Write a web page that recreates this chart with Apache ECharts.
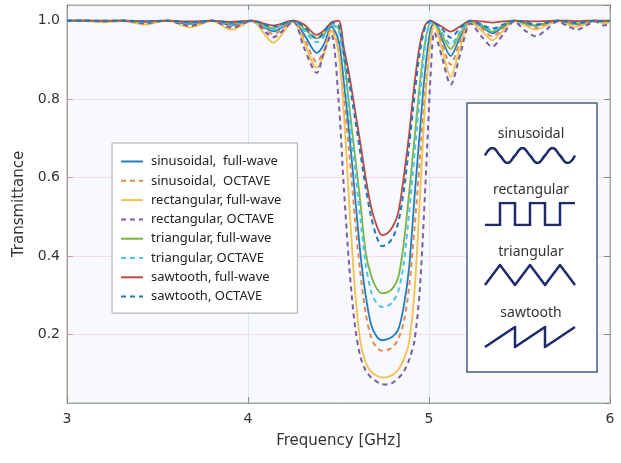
<!DOCTYPE html>
<html>
<head>
<meta charset="utf-8">
<script src="https://cdn.jsdelivr.net/npm/echarts@6/dist/echarts.min.js"></script>
<style>
  html, body { margin: 0; padding: 0; background: #fff; }
  #chart { width: 621px; height: 463px; }
</style>
</head>
<body>
<div id="chart"></div>
<script>
// frequency samples (GHz)
const freq = [3.00, 3.10, 3.20, 3.31, 3.43, 3.55, 3.68, 3.80, 3.91, 4.02, 4.14, 4.25, 4.31, 4.38, 4.42, 4.46,
  4.50, 4.53, 4.56, 4.59, 4.62, 4.65, 4.68, 4.71, 4.74, 4.77, 4.80, 4.83, 4.86, 4.89, 4.92, 4.95, 4.98,
  5.01, 5.03, 5.07, 5.12, 5.17, 5.23, 5.29, 5.35, 5.41, 5.47, 5.53, 5.59, 5.65, 5.71, 5.77, 5.82, 5.87, 5.92, 5.96, 6.00]

const sinFull = [1.0, 1.0, 0.999, 1.0, 0.996, 1.0, 0.992, 1.0, 0.989, 1.0, 0.973, 0.999, 0.965, 0.918, 0.94, 0.985,
  0.95, 0.84, 0.71, 0.56, 0.41, 0.30, 0.225, 0.195, 0.185, 0.188, 0.195, 0.212, 0.27, 0.37, 0.55, 0.72, 0.88,
  0.98, 0.995, 0.955, 0.91, 0.955, 0.998, 0.985, 0.968, 0.985, 1.0, 0.993, 0.987, 0.994, 1.0, 0.995, 0.991, 0.996, 1.0, 0.997, 0.998]
const sinOct = [1.0, 1.0, 0.998, 1.0, 0.995, 1.0, 0.99, 1.0, 0.986, 1.0, 0.966, 0.998, 0.955, 0.895, 0.925, 0.98,
  0.93, 0.80, 0.66, 0.50, 0.36, 0.255, 0.192, 0.167, 0.158, 0.16, 0.168, 0.188, 0.23, 0.32, 0.47, 0.65, 0.83,
  0.96, 0.995, 0.945, 0.888, 0.945, 0.997, 0.98, 0.96, 0.98, 1.0, 0.99, 0.981, 0.991, 1.0, 0.993, 0.988, 0.994, 1.0, 0.995, 0.996]
const rectFull = [1.0, 0.999, 0.996, 0.999, 0.99, 1.0, 0.983, 0.999, 0.977, 0.999, 0.944, 0.997, 0.945, 0.88, 0.915, 0.975,
  0.92, 0.76, 0.53, 0.32, 0.185, 0.128, 0.105, 0.095, 0.09, 0.091, 0.097, 0.11, 0.135, 0.18, 0.31, 0.55, 0.80,
  0.95, 0.99, 0.93, 0.857, 0.93, 0.996, 0.975, 0.95, 0.975, 0.999, 0.988, 0.977, 0.988, 0.999, 0.99, 0.985, 0.992, 0.999, 0.994, 0.995]
const rectOct = [1.0, 1.0, 0.998, 1.0, 0.993, 1.0, 0.987, 1.0, 0.982, 1.0, 0.958, 0.997, 0.93, 0.867, 0.92, 0.965,
  0.80, 0.57, 0.37, 0.225, 0.145, 0.108, 0.09, 0.08, 0.073, 0.072, 0.077, 0.088, 0.105, 0.135, 0.185, 0.32, 0.58,
  0.87, 0.97, 0.91, 0.837, 0.91, 0.993, 0.96, 0.934, 0.965, 0.998, 0.975, 0.96, 0.978, 0.998, 0.985, 0.977, 0.988, 0.998, 0.988, 0.99]
const triFull = [1.0, 1.0, 0.999, 1.0, 0.997, 1.0, 0.995, 1.0, 0.993, 1.0, 0.98, 1.0, 0.98, 0.955, 0.965, 0.99,
  0.98, 0.91, 0.78, 0.66, 0.54, 0.41, 0.35, 0.318, 0.305, 0.307, 0.318, 0.345, 0.43, 0.56, 0.70, 0.84, 0.95,
  0.995, 0.995, 0.965, 0.928, 0.965, 0.999, 0.988, 0.972, 0.988, 1.0, 0.995, 0.988, 0.995, 1.0, 0.996, 0.993, 0.997, 1.0, 0.998, 0.999]
const triOct = [1.0, 1.0, 0.999, 1.0, 0.997, 1.0, 0.994, 1.0, 0.992, 1.0, 0.977, 1.0, 0.975, 0.945, 0.96, 0.99,
  0.975, 0.89, 0.76, 0.63, 0.50, 0.38, 0.31, 0.28, 0.27, 0.272, 0.283, 0.31, 0.38, 0.51, 0.66, 0.81, 0.94,
  0.995, 0.995, 0.97, 0.94, 0.97, 0.999, 0.99, 0.975, 0.99, 1.0, 0.996, 0.99, 0.996, 1.0, 0.997, 0.994, 0.997, 1.0, 0.998, 0.999]
const sawFull = [1.0, 1.0, 1.0, 1.0, 0.999, 1.0, 0.998, 1.0, 0.997, 1.0, 0.988, 1.0, 0.99, 0.964, 0.975, 0.995,
  1.0, 0.93, 0.86, 0.775, 0.69, 0.60, 0.525, 0.478, 0.453, 0.458, 0.475, 0.51, 0.60, 0.71, 0.84, 0.94, 0.99,
  1.0, 0.995, 0.985, 0.972, 0.985, 1.0, 0.998, 0.995, 0.998, 1.0, 0.999, 0.998, 0.999, 1.0, 1.0, 0.999, 1.0, 1.0, 1.0, 1.0]
const sawOct = [1.0, 1.0, 1.0, 1.0, 0.998, 1.0, 0.996, 1.0, 0.995, 1.0, 0.985, 1.0, 0.985, 0.955, 0.97, 0.995,
  0.99, 0.915, 0.84, 0.755, 0.665, 0.575, 0.50, 0.45, 0.425, 0.43, 0.447, 0.485, 0.565, 0.68, 0.81, 0.92, 0.985,
  1.0, 0.995, 0.98, 0.957, 0.98, 1.0, 0.99, 0.98, 0.99, 1.0, 0.996, 0.99, 0.995, 1.0, 0.997, 0.994, 0.997, 1.0, 0.999, 1.0]

// inset waveform icons (x in periods, y normalised)
const sineX = [0, 0.25, 0.5, 0.75, 1, 1.25, 1.5, 1.75, 2, 2.25, 2.5, 2.75, 3]
const sineY = [0, 1, 0, -1, 0, 1, 0, -1, 0, 1, 0, -1, 0]
const rectX = [0, 0.5, 0.5, 1, 1, 1.5, 1.5, 2, 2, 2.5, 2.5, 3]
const rectY = [-1, -1, 1, 1, -1, -1, 1, 1, -1, -1, 1, 1]
const triX = [0, 0.5, 1, 1.5, 2, 2.5, 3]
const triY = [-1, 1, -1, 1, -1, 1, -1]
const sawX = [0, 1, 1, 2, 2, 3]
const sawY = [-1, 1, -1, 1, -1, 1]

const waveNames = ['sinusoidal', 'rectangular', 'triangular', 'sawtooth']

const pairs = (xs, ys) => xs.map((x, i) => [x, ys[i]])

const curve = (name, values, color, dashed) => ({
  name,
  type: 'line',
  xAxisIndex: 0,
  yAxisIndex: 0,
  data: pairs(freq, values),
  smooth: 0.3,
  symbol: 'none',
  lineStyle: {
    color,
    width: dashed ? 2 : 1.8,
    type: dashed ? [5, 4] : 'solid'
  },
  itemStyle: { color },
  z: 3
})

const iconSeries = (idx, xs, ys, smooth) => ({
  type: 'line',
  xAxisIndex: idx + 2,
  yAxisIndex: idx + 2,
  data: pairs(xs, ys),
  smooth: smooth ? 0.5 : false,
  symbol: 'none',
  silent: true,
  lineStyle: { color: '#1f2a6b', width: 2.5, cap: 'butt', join: 'miter' },
  z: 10
})

// inset layout: grids for the four icons
const iconBoxes = [
  { top: 148, height: 15 },
  { top: 203, height: 22 },
  { top: 265, height: 20 },
  { top: 327, height: 20 }
]
const labelY = [134, 190, 252, 313]

const chart = echarts.init(document.getElementById('chart'))

const hiddenAxis = (i, type) => ({
  gridIndex: i + 1,
  type: 'value',
  show: false,
  min: type === 'x' ? 0 : -1,
  max: type === 'x' ? 3 : 1
})

const option = {
  animation: false,
  textStyle: { fontFamily: 'DejaVu Sans' },
  grid: [
    {
      left: 67, right: 11, top: 5, bottom: 60,
      show: true,
      backgroundColor: '#f8f9fd',
      borderColor: '#a6a6a6',
      borderWidth: 1
    },
    ...iconBoxes.map(b => ({ left: 485, width: 90, top: b.top, height: b.height }))
  ],
  xAxis: [
    {
      type: 'value', min: 3, max: 6, interval: 1,
      name: 'Frequency [GHz]', nameLocation: 'middle', nameGap: 31,
      nameTextStyle: { fontSize: 15, color: '#333' },
      axisLine: { lineStyle: { color: '#9aa' } },
      axisTick: { inside: true, length: 6, lineStyle: { color: '#888' } },
      axisLabel: { fontSize: 14, color: '#333', margin: 9 },
      splitLine: { lineStyle: { color: '#dde5ee', width: 1 } }
    },
    {
      type: 'value', min: 3, max: 6, interval: 1, position: 'top',
      axisLine: { lineStyle: { color: '#aaa' } },
      axisTick: { inside: true, length: 5, lineStyle: { color: '#888' } },
      axisLabel: { show: false },
      splitLine: { show: false }
    },
    ...waveNames.map((n, i) => hiddenAxis(i, 'x'))
  ],
  yAxis: [
    {
      type: 'value', min: 0.025, max: 1.04,
      name: 'Transmittance', nameLocation: 'middle', nameGap: 36,
      nameTextStyle: { fontSize: 15, color: '#333' },
      axisLine: { show: true, lineStyle: { color: '#9a9a9a' } },
      axisTick: { inside: true, length: 6, lineStyle: { color: '#c99' } },
      axisLabel: {
        fontSize: 14, color: '#333', margin: 7,
        showMinLabel: false, showMaxLabel: false,
        formatter: v => v.toFixed(1)
      },
      splitLine: { lineStyle: { color: '#f0e0e0', width: 1 } }
    },
    {
      type: 'value', min: 0.025, max: 1.04, position: 'right',
      axisLine: { show: true, lineStyle: { color: '#aaa' } },
      axisTick: { inside: true, length: 6, lineStyle: { color: '#888' } },
      axisLabel: { show: false },
      splitLine: { show: false }
    },
    ...waveNames.map((n, i) => hiddenAxis(i, 'y'))
  ],
  legend: {
    orient: 'vertical',
    left: 112,
    top: 143,
    padding: [12, 16, 10, 8],
    itemWidth: 22,
    itemHeight: 14,
    itemGap: 6.3,
    backgroundColor: '#ffffff',
    borderColor: '#a8a8a8',
    borderWidth: 1,
    itemStyle: { opacity: 0 },
    textStyle: { fontFamily: 'Noto Sans', fontSize: 13, color: '#222', padding: [0, 0, 0, 3] },
    data: [
      'sinusoidal,  full-wave', 'sinusoidal,  OCTAVE',
      'rectangular, full-wave', 'rectangular, OCTAVE',
      'triangular, full-wave', 'triangular, OCTAVE',
      'sawtooth, full-wave', 'sawtooth, OCTAVE'
    ]
  },
  graphic: [
    {
      type: 'rect',
      shape: { x: 467, y: 103, width: 130, height: 269 },
      style: { fill: '#ffffff', stroke: '#4a5b8c', lineWidth: 1.5 },
      z: 5
    },
    ...waveNames.map((n, i) => ({
      type: 'text',
      x: 531, y: labelY[i],
      style: {
        text: n, fontFamily: 'Noto Sans', fontSize: 14, fill: '#333',
        align: 'center', verticalAlign: 'middle'
      },
      z: 6
    }))
  ],
  series: [
    curve('sinusoidal,  full-wave', sinFull, '#1f7ec2', false),
    curve('sinusoidal,  OCTAVE', sinOct, '#e08a50', true),
    curve('rectangular, full-wave', rectFull, '#f2c14e', false),
    curve('rectangular, OCTAVE', rectOct, '#7d5bab', true),
    curve('triangular, full-wave', triFull, '#7cb342', false),
    curve('triangular, OCTAVE', triOct, '#4cc3ec', true),
    curve('sawtooth, full-wave', sawFull, '#b94a48', false),
    curve('sawtooth, OCTAVE', sawOct, '#1f77b4', true),
    iconSeries(0, sineX, sineY, true),
    iconSeries(1, rectX, rectY, false),
    iconSeries(2, triX, triY, false),
    iconSeries(3, sawX, sawY, false)
  ]
}

chart.setOption(option)
</script>
</body>
</html>
